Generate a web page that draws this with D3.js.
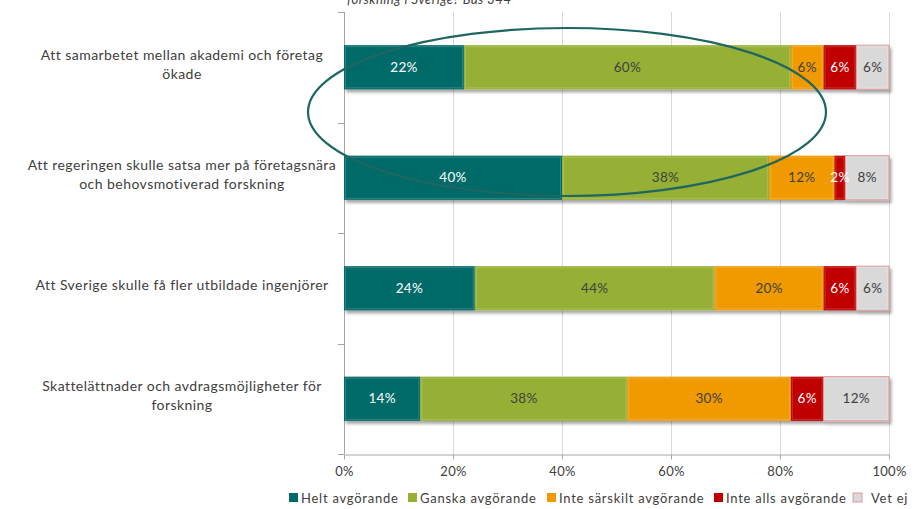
<!DOCTYPE html>
<html><head><meta charset="utf-8">
<script src="https://cdn.jsdelivr.net/npm/d3@7"></script>
<style>body{margin:0;background:#fff}svg{display:block}text{font-family:Lato,"Open Sans",sans-serif}</style>
</head><body>
<svg id="c" width="916" height="509"></svg>
<script>
const categories = [
  ["Att samarbetet mellan akademi och företag","ökade"],
  ["Att regeringen skulle satsa mer på företagsnära","och behovsmotiverad forskning"],
  ["Att Sverige skulle få fler utbildade ingenjörer"],
  ["Skattelättnader och avdragsmöjligheter för","forskning"]
];
const seriesNames = ["Helt avgörande","Ganska avgörande","Inte särskilt avgörande","Inte alls avgörande","Vet ej"];
const heltAvgorande     = [22, 40, 24, 14];
const ganskaAvgorande   = [60, 38, 44, 38];
const inteSarskilt      = [6, 12, 20, 30];
const inteAlls          = [6, 2, 6, 6];
const vetEj             = [6, 8, 6, 12];
const xTicks = [0, 20, 40, 60, 80, 100];
const titleFragment = "forskning i Sverige? Bas 344";

const colors = ["#006B68","#96B034","#F09A00","#C00000","#D9D9D9"];
const labelColors = ["#ffffff","#404040","#404040","#ffffff","#404040"];
const seriesVals = [heltAvgorande, ganskaAvgorande, inteSarskilt, inteAlls, vetEj];

const svg = d3.select("#c");
const defs = svg.append("defs");
const f = defs.append("filter").attr("id","sh").attr("x","-5%").attr("y","-20%").attr("width","115%").attr("height","160%");
f.append("feDropShadow").attr("dx",2).attr("dy",3).attr("stdDeviation",1.8).attr("flood-color","#000").attr("flood-opacity",0.35);

const x = d3.scaleLinear().domain([0,100]).range([344,889]);
const y = d3.scaleBand().domain(d3.range(categories.length)).range([12,454]).paddingInner(0.6).paddingOuter(0.3);

// title fragment (cut off at top, as in the source)
svg.append("text").attr("x",347).attr("y",4).attr("font-size",13).attr("font-style","italic").attr("fill","#404040").attr("letter-spacing",0.5).text(titleFragment);

// gridlines
svg.append("g").selectAll("line").data(xTicks.filter(d=>d>0)).join("line")
  .attr("x1",d=>x(d)+0.5).attr("x2",d=>x(d)+0.5).attr("y1",12).attr("y2",454)
  .attr("stroke","#D9D9D9").attr("stroke-width",1);

// x axis
const xAxis = svg.append("g").attr("transform","translate(0,454.5)")
  .call(d3.axisBottom(x).tickValues(xTicks).tickFormat(d=>d+"%").tickSize(5).tickSizeOuter(0));
xAxis.select(".domain").attr("stroke","#A6A6A6");
xAxis.selectAll(".tick line").attr("stroke","#A6A6A6");
xAxis.selectAll(".tick text").attr("font-size",13).attr("fill","#404040").attr("dy","1.05em").attr("font-family","Lato,sans-serif").attr("letter-spacing",0.3);

// y axis line and category ticks
const tickYs = d3.range(categories.length+1).map(i => i < categories.length ? y(i) - y.bandwidth()*0.75 : y(categories.length-1) + y.bandwidth()*1.75);
svg.append("line").attr("x1",344.5).attr("x2",344.5).attr("y1",12).attr("y2",454).attr("stroke","#A6A6A6");
svg.append("g").selectAll("line").data(tickYs).join("line")
  .attr("x1",338).attr("x2",344).attr("y1",d=>Math.round(d)+0.5).attr("y2",d=>Math.round(d)+0.5).attr("stroke","#A6A6A6");

// bars
const rows = categories.map((c,i)=>{
  let acc = 0;
  return seriesVals.map((s,k)=>{ const v=s[i]; const seg={i,k,v,x0:acc,x1:acc+v}; acc+=v; return seg; });
});
const barG = svg.append("g");
rows.forEach(row=>{
  const g = barG.append("g").attr("filter","url(#sh)");
  g.selectAll("rect").data(row).join("rect")
    .attr("x",d=>x(d.x0)).attr("width",d=>x(d.x1)-x(d.x0))
    .attr("y",d=>y(d.i)).attr("height",y.bandwidth())
    .attr("fill",d=>colors[d.k])
    .attr("stroke",d=>d.k===4?"#E39A9A":"none").attr("stroke-width",1);
});
rows.forEach(row=>{
  barG.append("g").selectAll("rect").data(row).join("rect")
    .attr("x",d=>x(d.x0)+1.5).attr("width",d=>Math.max(0,x(d.x1)-x(d.x0)-3))
    .attr("y",d=>y(d.i)+1.5).attr("height",y.bandwidth()-3)
    .attr("fill","none").attr("stroke","rgba(255,255,255,0.18)").attr("stroke-width",1);
});
rows.forEach(row=>{
  barG.append("g").selectAll("text").data(row).join("text")
    .attr("x",d=>(x(d.x0)+x(d.x1))/2).attr("y",d=>y(d.i)+y.bandwidth()/2)
    .attr("dy","0.35em").attr("text-anchor","middle").attr("font-size",13.5).attr("letter-spacing",0.3)
    .attr("fill",d=>labelColors[d.k]).text(d=>d.v+"%");
});

// category labels
const catG = svg.append("g");
categories.forEach((lines,i)=>{
  const cy = y(i)+y.bandwidth()/2;
  const lh = 19;
  const t = catG.append("text").attr("text-anchor","middle").attr("font-size",14).attr("letter-spacing",0.45).attr("fill","#404040");
  lines.forEach((ln,j)=>{
    t.append("tspan").attr("x",182).attr("y",cy + (j-(lines.length-1)/2)*lh - 3).attr("dy","0.35em").text(ln);
  });
});

// ellipse annotation
svg.append("ellipse").attr("cx",567).attr("cy",112).attr("rx",259).attr("ry",84)
  .attr("fill","none").attr("stroke","#1E6662").attr("stroke-width",2.2);

// legend
const legX = [289, 408, 547, 714, 853];
const lg = svg.append("g").attr("transform","translate(0,498)");
seriesNames.forEach((n,k)=>{
  lg.append("rect").attr("x",legX[k]).attr("y",-5).attr("width",9).attr("height",9)
    .attr("fill",colors[k]).attr("stroke",k===4?"#E39A9A":"none");
  lg.append("text").attr("x",legX[k]+(k===4?18:12)).attr("y",0).attr("dy","0.35em").attr("font-size",13).attr("letter-spacing",0.75)
    .attr("fill","#404040").text(n);
});
</script>
</body></html>
